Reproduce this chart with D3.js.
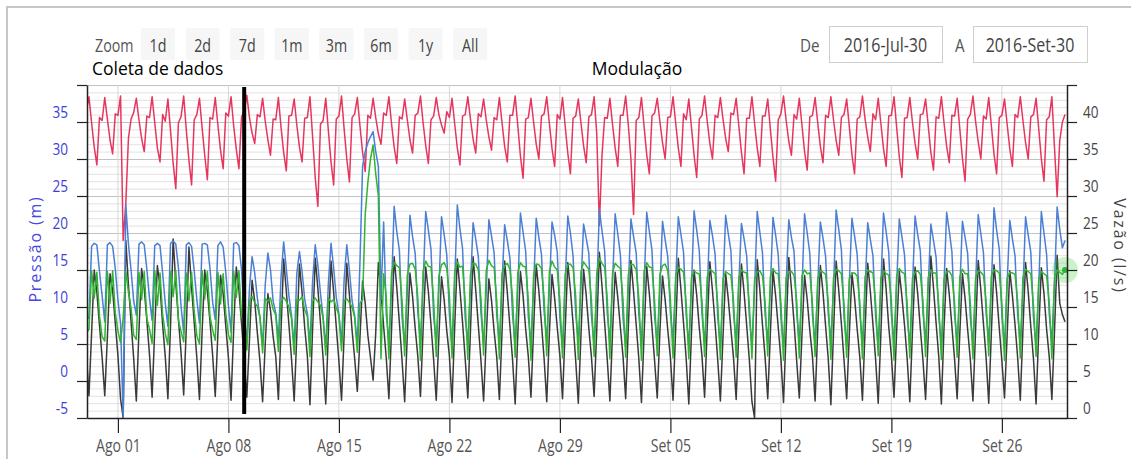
<!DOCTYPE html>
<html>
<head>
<meta charset="utf-8">
<script src="https://cdn.jsdelivr.net/npm/d3@7"></script>
<style>
  body { margin: 0; background: #fff; }
  svg { display: block; font-family: "Open Sans", sans-serif; }
</style>
</head>
<body>
<script>
// Hours of the day at which each daily row below is sampled
var hours = [0, 4, 8, 12, 16, 20];

// Pressure, red line (left axis, m) - one row per day from Jul 30
var red = [
  [36.5,38.4,34.9,31.6,29.2,35.6],[35.2,38.3,35.4,32.6,30.7,36.1],[35.9,38.5,19.0,24.0,32.8,35.4],
  [36.3,38.2,35.3,32.8,31.0,35.8],[35.6,38.4,34.9,31.5,29.6,36.0],[35.1,38.1,33.8,29.4,26.0,34.9],
  [35.7,38.5,33.9,29.8,26.5,35.3],[36.0,38.2,34.2,30.5,27.2,35.6],[35.4,38.3,34.6,31.2,28.7,36.2],
  [35.8,38.4,34.5,31.3,28.7,35.7],[36.4,38.6,35.6,33.5,32.1,36.0],[35.7,38.2,35.1,32.6,30.5,35.4],
  [35.3,38.3,34.3,30.9,28.4,35.8],[35.9,38.1,34.6,31.6,29.6,35.5],[35.6,38.4,33.0,27.5,23.6,34.7],
  [35.2,38.2,33.8,29.6,26.5,35.4],[35.8,38.5,34.0,30.0,26.9,35.6],[36.1,38.3,34.5,30.9,28.3,35.9],
  [35.5,38.2,35.6,33.4,32.0,36.2],[35.9,38.4,34.8,31.6,29.4,35.7],[35.4,38.1,35.3,32.6,30.8,35.9],
  [36.2,38.5,34.9,31.8,29.4,35.3],[35.8,38.3,36.0,34.6,33.5,36.4],[35.6,38.2,34.8,31.5,29.2,35.8],
  [36.0,38.4,35.4,32.7,30.8,36.1],[35.7,38.1,35.3,33.0,31.2,35.6],[35.3,38.3,34.9,31.7,29.6,35.9],
  [35.9,38.5,34.5,30.4,27.4,35.4],[35.6,38.2,35.0,32.0,30.0,35.8],[36.1,38.4,34.8,31.4,29.0,36.0],
  [35.4,38.3,34.5,30.8,28.0,35.5],[35.8,38.1,34.9,31.8,29.5,35.7],[36.0,38.4,33.5,21.0,30.5,35.6],
  [35.5,38.2,34.7,31.5,29.0,35.9],[35.9,38.5,34.6,30.0,22.5,35.2],[35.6,38.3,34.4,30.6,28.0,35.8],
  [36.2,38.2,35.1,32.2,30.0,35.6],[35.7,38.4,34.9,31.5,29.0,36.1],[35.3,38.1,34.3,30.5,27.5,35.4],
  [35.9,38.5,35.1,32.1,30.0,35.9],[35.6,38.3,35.4,32.8,31.0,36.2],[36.0,38.2,34.5,30.9,28.0,35.5],
  [35.5,38.4,34.8,31.5,29.0,35.8],[35.8,38.1,34.0,30.2,27.0,35.3],[36.1,38.5,35.2,32.4,30.5,36.0],
  [35.4,38.2,34.6,31.0,28.5,35.7],[35.9,38.3,34.9,31.7,29.5,35.9],[35.6,38.4,35.3,32.5,30.5,35.6],
  [36.0,38.1,34.4,30.6,28.0,35.4],[35.7,38.5,35.4,33.0,31.0,36.1],[35.3,38.2,34.8,31.4,29.0,35.8],
  [35.9,38.4,34.3,30.3,27.5,35.5],[35.6,38.3,35.0,32.1,30.0,36.0],[36.1,38.1,34.5,30.9,28.5,35.7],
  [35.5,38.4,34.9,31.7,29.5,35.9],[35.8,38.2,34.1,30.1,27.0,35.4],[36.0,38.5,35.1,32.3,30.0,35.8],
  [35.4,38.3,34.5,30.7,28.0,35.6],[35.9,38.1,34.7,31.4,29.0,36.0],[35.6,38.4,35.2,32.2,30.0,35.7],
  [36.0,38.2,34.1,30.0,27.0,35.3],[35.7,38.4,31.5,24.9,32.5,35.0]
];
var redLast = 36.0;

// Pressure, blue line (left axis, m)
var blue = [
  [8.2,8.6,18.2,18.6,18.4,14.8],[11.5,8.0,18.4,18.7,18.2,15.2],[11.0,7.8,-5.0,23.8,18.5,15.0],
  [10.8,8.9,18.5,18.8,18.4,15.1],[11.2,8.2,18.3,18.6,18.3,14.6],[10.5,7.4,18.6,18.9,18.5,15.3],
  [10.1,6.5,18.4,18.7,18.2,14.9],[11.0,7.8,18.5,18.6,18.4,15.2],[10.7,8.3,18.3,18.8,18.1,14.7],
  [10.2,6.6,18.6,18.7,18.3,15.0],[9.0,5.2,12.5,16.8,14.6,11.2],[8.5,4.8,13.0,17.3,15.0,10.8],
  [9.2,5.5,14.0,18.8,15.2,11.5],[8.8,4.6,14.5,17.5,14.8,11.0],[9.1,5.0,13.5,18.4,15.6,11.8],
  [8.6,4.4,13.2,18.6,15.3,11.3],[9.0,5.1,13.8,18.4,14.9,10.9],[8.7,4.9,16.0,29.0,31.0,32.2],
  [33.0,33.7,31.0,29.0,11.0,21.5],[9.0,5.2,12.5,23.6,20.2,17.6],[8.6,4.8,12.0,22.4,19.5,17.2],
  [9.3,5.4,13.0,22.9,20.4,17.8],[8.8,5.0,12.2,22.2,19.8,17.0],[9.1,4.6,13.4,23.8,20.6,17.9],
  [8.5,5.3,12.6,21.4,19.2,16.8],[9.2,4.9,12.1,21.8,19.6,17.3],[8.9,5.1,13.1,21.1,19.0,16.6],
  [9.0,4.7,12.4,22.7,20.1,17.5],[8.7,5.0,12.8,22.0,19.4,17.1],[9.4,5.5,12.3,21.5,19.7,17.4],
  [8.6,4.5,13.0,22.3,20.0,16.9],[9.1,5.2,12.7,21.2,19.3,17.2],[8.8,4.8,12.0,23.2,20.3,17.6],
  [9.2,5.3,13.2,22.6,19.9,17.0],[8.5,4.6,12.5,21.9,19.5,17.3],[9.0,5.1,12.9,22.8,20.2,17.7],
  [8.7,4.9,12.2,21.6,19.1,16.8],[9.3,5.4,13.3,22.2,19.8,17.4],[8.9,4.7,12.6,23.0,20.4,17.5],
  [9.1,5.0,12.1,21.7,19.6,17.1],[8.6,4.5,12.8,22.4,19.9,17.6],[9.2,5.2,13.0,21.3,19.2,16.9],
  [8.8,4.8,12.4,22.9,20.1,17.3],[9.0,5.3,12.7,22.1,19.7,17.0],[8.7,4.6,13.1,21.8,19.4,17.5],
  [9.3,5.1,12.3,22.6,20.0,17.2],[8.9,4.9,12.9,21.5,19.3,16.8],[9.1,5.4,12.5,23.1,20.5,17.7],
  [8.6,4.7,13.2,22.0,19.6,17.1],[9.2,5.0,12.2,21.4,19.1,16.9],[8.8,4.5,12.8,22.7,20.2,17.4],
  [9.0,5.2,13.0,21.9,19.5,17.0],[8.7,4.8,12.4,22.3,19.8,17.6],[9.3,5.3,12.7,21.2,19.0,16.7],
  [8.9,4.6,13.1,22.8,20.3,17.5],[9.1,5.1,12.3,21.6,19.4,17.2],[8.6,4.9,12.9,22.5,19.9,17.3],
  [9.2,5.4,12.6,23.4,20.4,17.8],[8.8,4.7,13.2,21.7,19.2,16.9],[9.0,5.0,12.1,22.2,19.7,17.4],
  [8.7,4.6,12.8,22.9,20.0,17.1],[9.1,5.2,13.0,23.5,20.5,18.0]
];
var blueLast = 19.0;

// Flow, black line (right axis, l/s)
var black = [
  [8.8,3.0,11.5,20.0,17.0,12.5],[8.2,3.0,11.0,19.5,17.2,12.8],[8.5,2.6,0.0,24.0,18.0,13.0],
  [8.0,2.3,11.8,20.2,17.5,13.2],[8.6,2.8,12.0,20.6,17.8,12.6],[8.3,2.6,12.5,24.2,18.2,13.4],
  [8.8,3.1,12.2,23.1,17.6,12.9],[8.1,2.5,11.6,20.0,17.1,13.0],[8.5,2.9,11.4,19.3,16.8,12.4],
  [8.2,2.4,11.9,20.4,17.3,12.7],[8.0,2.8,10.5,18.6,15.8,11.5],[7.6,2.2,10.0,16.8,14.5,11.0],
  [8.3,2.5,11.8,21.5,17.2,12.6],[7.9,2.3,11.2,20.8,16.9,12.2],[8.4,1.8,12.0,21.6,17.5,12.8],
  [8.1,1.9,11.6,21.2,17.0,12.3],[7.7,2.4,11.3,20.9,16.6,11.9],[8.0,3.6,10.8,18.5,15.5,11.2],
  [8.2,5.1,11.5,21.0,17.0,12.4],[8.1,2.6,11.8,21.8,17.6,12.8],[7.8,2.2,11.2,19.6,16.4,12.1],
  [8.3,2.9,11.9,20.4,17.1,12.6],[7.9,2.4,10.9,19.1,16.0,11.8],[8.4,2.1,12.2,21.5,17.4,12.9],
  [8.0,2.7,11.7,21.8,17.3,12.5],[7.7,2.3,10.8,18.8,15.9,11.7],[8.2,2.5,11.6,21.2,17.0,12.4],
  [7.9,1.9,11.3,19.8,16.5,12.0],[8.3,2.8,12.0,20.7,17.2,12.7],[8.0,2.2,11.4,19.4,16.2,12.2],
  [8.4,2.6,11.9,21.0,17.3,12.8],[7.8,2.0,11.1,20.1,16.6,12.1],[8.2,2.9,11.8,22.4,17.8,12.9],
  [7.9,2.3,11.5,19.7,16.3,12.2],[8.3,2.6,12.1,21.3,17.1,12.6],[8.0,2.1,11.2,20.5,16.8,12.3],
  [7.7,2.7,11.6,19.2,16.0,11.9],[8.2,2.4,11.9,21.6,17.4,12.8],[8.0,1.9,11.3,20.0,16.6,12.1],
  [8.4,2.8,12.2,21.1,17.2,12.7],[7.8,2.3,11.0,19.5,16.1,12.0],[8.1,2.5,11.7,20.8,17.0,12.5],
  [7.9,2.2,0.0,21.4,17.3,12.6],[8.2,2.6,11.4,19.9,16.5,12.2],[8.0,2.1,11.8,21.7,17.5,12.9],
  [7.7,2.7,11.1,19.3,16.0,11.8],[8.3,2.3,12.0,20.6,17.0,12.4],[8.0,1.8,11.5,21.2,17.2,12.7],
  [7.8,2.6,11.2,19.6,16.3,12.0],[8.2,2.4,11.9,20.9,17.1,12.6],[7.9,2.0,11.3,21.5,17.4,12.3],
  [8.4,2.8,11.7,19.8,16.4,12.5],[8.0,2.2,11.6,20.4,16.8,12.1],[7.8,2.5,11.0,21.9,17.6,12.8],
  [8.3,1.9,12.1,20.2,16.7,12.4],[8.0,2.6,11.4,19.5,16.2,11.9],[7.9,2.3,11.8,21.3,17.3,12.7],
  [8.2,2.0,11.5,20.7,16.9,12.2],[7.7,2.7,11.2,19.9,16.5,12.6],[8.1,2.4,11.9,21.0,17.1,12.3],
  [8.0,1.9,11.6,20.3,16.8,12.0],[8.3,2.5,11.7,22.0,15.5,14.0]
];
var blackLast = 13.0;

// Flow, green line (right axis, l/s)
var green = [
  [11.5,12.0,19.9,16.2,19.7,13.8],[11.0,10.4,19.8,15.5,19.9,14.2],[11.8,10.2,13.5,19.8,17.0,14.8],
  [11.2,10.6,19.7,16.0,19.8,13.5],[12.0,10.1,19.9,15.2,19.6,14.0],[11.4,9.9,19.8,16.4,19.9,13.2],
  [11.7,10.3,19.6,15.8,19.7,14.4],[11.1,10.0,19.9,16.1,19.8,13.7],[11.9,10.5,19.7,15.4,19.5,14.1],
  [11.3,10.2,19.8,16.3,19.9,13.6],[14.0,9.2,15.9,16.4,15.6,15.1],[13.6,8.8,16.1,15.8,16.2,14.7],
  [13.9,9.0,15.7,16.3,15.8,15.0],[13.4,8.6,16.0,15.9,16.4,14.6],[13.8,8.3,15.8,16.2,15.7,15.2],
  [13.5,8.5,16.2,15.7,16.0,14.9],[13.9,9.1,15.9,16.1,15.6,15.0],[13.6,8.9,15.5,16.0,27.5,31.8],
  [35.0,36.9,33.0,30.0,8.0,19.5],[16.4,8.0,19.6,21.0,20.6,20.3],[15.8,8.4,19.3,20.8,20.9,20.1],
  [16.2,7.8,19.8,21.2,20.5,20.4],[15.9,8.3,19.2,20.7,21.0,20.2],[16.5,8.1,19.7,21.1,20.4,20.5],
  [15.7,7.9,19.4,20.9,20.8,20.0],[16.1,8.5,19.9,21.3,20.6,20.3],[15.8,8.0,19.5,20.6,20.9,20.1],
  [16.3,8.2,19.6,21.0,20.5,20.4],[15.9,7.8,19.3,20.8,20.7,20.2],[16.2,8.4,19.8,21.2,20.4,20.0],
  [15.7,8.1,19.4,20.7,20.8,20.3],[16.4,7.9,19.7,21.1,20.6,20.1],[15.8,8.3,19.5,21.6,20.9,20.4],
  [16.1,8.0,19.6,20.9,20.5,20.2],[15.9,8.2,19.3,20.8,20.7,20.0],[16.2,7.8,19.8,21.0,20.4,20.3],
  [15.7,8.4,19.4,20.6,20.8,19.9],[16.0,8.1,19.2,20.4,20.1,19.7],[15.5,8.0,18.9,19.9,19.6,19.4],
  [15.8,8.3,19.1,20.1,19.8,19.5],[15.4,7.9,18.8,19.8,19.5,19.3],[15.7,8.2,19.0,20.0,19.7,19.6],
  [15.3,8.0,18.7,19.7,19.9,19.2],[15.6,8.4,19.1,20.2,19.6,19.5],[15.5,7.8,18.9,19.8,19.8,19.3],
  [15.8,8.1,19.2,20.0,19.5,19.6],[15.4,8.3,18.8,19.9,19.7,19.4],[15.7,7.9,19.0,20.1,19.9,19.5],
  [15.3,8.2,18.7,19.6,19.6,19.2],[15.6,8.0,19.1,20.0,19.8,19.6],[15.5,8.4,18.9,19.9,19.5,19.3],
  [15.8,7.8,19.2,20.2,19.7,19.5],[15.4,8.1,18.8,19.7,19.9,19.4],[15.7,8.3,19.0,20.0,19.6,19.6],
  [15.3,7.9,18.7,19.8,19.8,19.2],[15.6,8.2,19.1,20.1,19.5,19.5],[15.5,8.0,18.9,19.9,19.7,19.3],
  [15.8,8.4,19.2,20.0,19.9,19.6],[15.4,7.8,18.8,19.7,19.6,19.4],[15.7,8.1,19.0,20.1,19.8,19.5],
  [15.3,8.3,18.7,19.8,19.5,19.2],[15.6,8.0,19.0,20.0,19.7,19.4]
];
var greenLast = 20.0;

// Axis ticks and labels
var xTicks = ["2016-08-01","2016-08-08","2016-08-15","2016-08-22","2016-08-29","2016-09-05","2016-09-12","2016-09-19","2016-09-26"];
var xTickLabels = ["Ago 01","Ago 08","Ago 15","Ago 22","Ago 29","Set 05","Set 12","Set 19","Set 26"];
var leftTicks = [-5, 0, 5, 10, 15, 20, 25, 30, 35, 40];
var rightTicks = [0, 5, 10, 15, 20, 25, 30, 35, 40, 45];
var zoomButtons = ["1d", "2d", "7d", "1m", "3m", "6m", "1y", "All"];
var dateFrom = "2016-Jul-30";
var dateTo = "2016-Set-30";
var splitDate = "2016-08-09";

var W = 1131, H = 459;
var plotL = 87, plotR = 1067, plotT = 85, plotB = 418;
var parse = d3.timeParse("%Y-%m-%d");

var x = d3.scaleTime()
    .domain([new Date(2016, 6, 30, 1), new Date(2016, 8, 30, 3)])
    .range([plotL, plotR]);
var yL = d3.scaleLinear().domain([-5, 40]).range([plotB, plotT]);
var yR = d3.scaleLinear().domain([0, 45]).range([plotB, plotT]);

function toPoints(days, last) {
    var pts = [];
    days.forEach(function(vals, i) {
        vals.forEach(function(v, k) {
            pts.push({t: new Date(2016, 6, 30 + i, hours[k]), v: v});
        });
    });
    pts.push({t: new Date(2016, 6, 30 + days.length, 0), v: last});
    return pts;
}

var svg = d3.select("body").append("svg")
    .attr("width", W)
    .attr("height", H);

// outer frame (only top and left edges show)
svg.append("path")
    .attr("d", "M7,459 L7,7 L1131,7")
    .attr("fill", "none")
    .attr("stroke", "#c6c6c6")
    .attr("stroke-width", 2);

// horizontal grid: minor every 1 m, major every 5
svg.append("g").selectAll("line")
    .data(d3.range(-5, 41, 1))
    .enter().append("line")
    .attr("x1", plotL).attr("x2", plotR)
    .attr("y1", function(d) { return yL(d) + 0.5; })
    .attr("y2", function(d) { return yL(d) + 0.5; })
    .attr("stroke", function(d) { return d % 5 === 0 ? "#c2c2c2" : "#e2e2e2"; })
    .attr("stroke-width", 1);

// vertical grid at the date ticks
svg.append("g").selectAll("line")
    .data(xTicks)
    .enter().append("line")
    .attr("x1", function(d) { return x(parse(d)); })
    .attr("x2", function(d) { return x(parse(d)); })
    .attr("y1", plotT).attr("y2", plotB)
    .attr("stroke", "#d6d6d6");

svg.append("clipPath").attr("id", "plot")
    .append("rect")
    .attr("x", plotL).attr("y", plotT)
    .attr("width", plotR - plotL).attr("height", plotB - plotT);

var plotG = svg.append("g").attr("clip-path", "url(#plot)");

function drawLine(pts, yScale, color) {
    var line = d3.line()
        .x(function(d) { return x(d.t); })
        .y(function(d) { return yScale(d.v); });
    plotG.append("path")
        .datum(pts)
        .attr("d", line)
        .attr("fill", "none")
        .attr("stroke", color)
        .attr("stroke-width", 1.5)
        .attr("stroke-linejoin", "round");
}

drawLine(toPoints(red, redLast), yL, "#e6365e");
drawLine(toPoints(black, blackLast), yR, "#3a3a3a");
drawLine(toPoints(blue, blueLast), yL, "#4a7fd5");
var greenPts = toPoints(green, greenLast);
drawLine(greenPts, yR, "#2fb52f");

// hover halo on the last green point
var lastG = greenPts[greenPts.length - 1];
svg.append("circle")
    .attr("cx", x(lastG.t)).attr("cy", yR(lastG.v))
    .attr("r", 13)
    .attr("fill", "#33cc33")
    .attr("opacity", 0.25);
svg.append("circle")
    .attr("cx", x(lastG.t)).attr("cy", yR(lastG.v))
    .attr("r", 3)
    .attr("fill", "#2fb52f");

// separator between "Coleta de dados" and "Modulação"
svg.append("line")
    .attr("x1", x(parse(splitDate))).attr("x2", x(parse(splitDate)))
    .attr("y1", plotT + 2).attr("y2", plotB - 4)
    .attr("stroke", "#000")
    .attr("stroke-width", 4);

// axes
var axL = svg.append("g")
    .attr("transform", "translate(" + plotL + ",0)")
    .call(d3.axisLeft(yL).tickValues(leftTicks).tickSize(10).tickSizeOuter(0)
        .tickFormat(function(d) { return d === 40 ? "" : String(d); }));
axL.selectAll("text")
    .attr("x", 0).attr("dy", "0.35em")
    .attr("transform", "translate(-19,-10) scale(0.8,1)")
    .attr("fill", "#3d3dd8")
    .attr("font-size", 17)
    .attr("font-family", "Open Sans");

var axR = svg.append("g")
    .attr("transform", "translate(" + plotR + ",0)")
    .call(d3.axisRight(yR).tickValues(rightTicks).tickSize(10).tickSizeOuter(0)
        .tickFormat(function(d) { return d === 45 ? "" : String(d); }));
axR.selectAll("text")
    .attr("x", 0).attr("dy", "0.35em")
    .attr("transform", "translate(16,-10) scale(0.8,1)")
    .attr("fill", "#444")
    .attr("font-size", 17)
    .attr("font-family", "Open Sans");

var axB = svg.append("g")
    .attr("transform", "translate(0," + plotB + ")")
    .call(d3.axisBottom(x).tickValues(xTicks.map(parse)).tickSize(15).tickSizeOuter(0)
        .tickFormat(function(d, i) { return xTickLabels[i]; }));
axB.selectAll("text")
    .attr("y", 0).attr("dy", 0)
    .attr("transform", "translate(0,34) scale(0.78,1)")
    .attr("fill", "#555")
    .attr("font-size", 18)
    .attr("font-family", "Open Sans");

[axL, axR, axB].forEach(function(ax) {
    ax.select(".domain").attr("stroke", "#222").attr("stroke-width", 1.5);
    ax.selectAll(".tick line").attr("stroke", "#222").attr("stroke-width", 1.2);
});

// axis titles
svg.append("text")
    .attr("transform", "translate(41,249) rotate(-90)")
    .attr("text-anchor", "middle")
    .attr("font-size", 16)
    .attr("letter-spacing", 1.8)
    .attr("fill", "#4646e0")
    .text("Pressão (m)");

svg.append("text")
    .attr("transform", "translate(1114,246) rotate(90)")
    .attr("text-anchor", "middle")
    .attr("font-size", 16)
    .attr("letter-spacing", 1.8)
    .attr("fill", "#444")
    .text("Vazão (l/s)");

// range selector buttons
svg.append("text")
    .attr("transform", "translate(95,52) scale(0.75,1)")
    .attr("font-size", 19)
    .attr("fill", "#555")
    .text("Zoom");

var btn = svg.append("g").selectAll("g")
    .data(zoomButtons)
    .enter().append("g")
    .attr("transform", function(d, i) { return "translate(" + (158 + i * 44.6) + ",0)"; });
btn.append("rect")
    .attr("x", -17).attr("y", 28)
    .attr("width", 34).attr("height", 32)
    .attr("rx", 2)
    .attr("fill", "#f6f6f6");
btn.append("text")
    .attr("transform", "translate(0,52) scale(0.75,1)")
    .attr("text-anchor", "middle")
    .attr("font-size", 19)
    .attr("fill", "#444")
    .text(function(d) { return d; });

// date inputs
svg.append("text")
    .attr("transform", "translate(800,52) scale(0.8,1)")
    .attr("font-size", 19).attr("fill", "#555")
    .text("De");
svg.append("text")
    .attr("transform", "translate(955,52) scale(0.8,1)")
    .attr("font-size", 19).attr("fill", "#555")
    .text("A");

var boxes = [{x: 829, w: 113, t: dateFrom}, {x: 973, w: 114, t: dateTo}];
boxes.forEach(function(b) {
    svg.append("rect")
        .attr("x", b.x + 0.5).attr("y", 26.5)
        .attr("width", b.w).attr("height", 36)
        .attr("fill", "#fff")
        .attr("stroke", "#cfcfcf");
    svg.append("text")
        .attr("transform", "translate(" + (b.x + b.w / 2) + ",52) scale(0.8,1)")
        .attr("text-anchor", "middle")
        .attr("font-size", 20)
        .attr("fill", "#444")
        .text(b.t);
});

// section headers
svg.append("text")
    .attr("x", 92).attr("y", 75)
    .attr("font-size", 17.5)
    .attr("fill", "#000")
    .text("Coleta de dados");
svg.append("text")
    .attr("x", 637).attr("y", 75)
    .attr("text-anchor", "middle")
    .attr("font-size", 17.5)
    .attr("fill", "#000")
    .text("Modulação");
</script>
</body>
</html>
